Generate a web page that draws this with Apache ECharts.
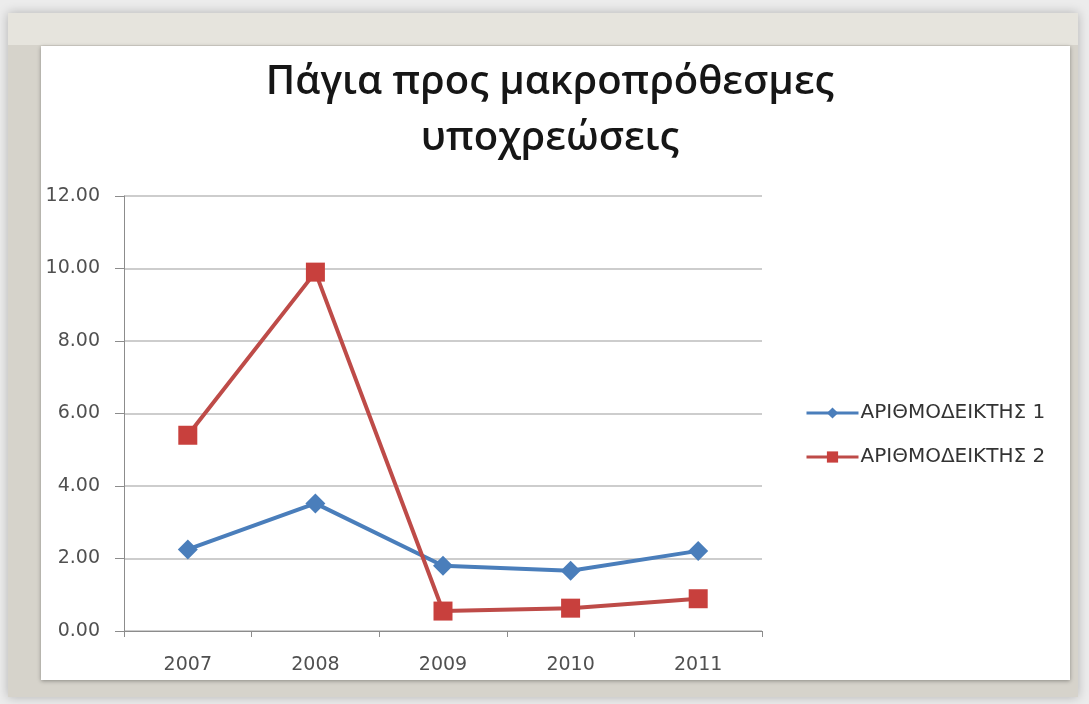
<!DOCTYPE html>
<html>
<head>
<meta charset="utf-8">
<script src="https://cdn.jsdelivr.net/npm/echarts@6/dist/echarts.min.js"></script>
<style>
  html, body { margin: 0; padding: 0; background: #ececec; }
  #chart { width: 1089px; height: 704px; }
</style>
</head>
<body>
<div id="chart"></div>
<script>
// Years on the category axis
const years = ['2007', '2008', '2009', '2010', '2011'];
// Ratio values per year
const index1 = [2.25, 3.52, 1.80, 1.66, 2.21];
const index2 = [5.40, 9.90, 0.55, 0.63, 0.89];
const seriesNames = ['ΑΡΙΘΜΟΔΕΙΚΤΗΣ 1', 'ΑΡΙΘΜΟΔΕΙΚΤΗΣ 2'];
const titleText = 'Πάγια προς μακροπρόθεσμες\nυποχρεώσεις';

const chart = echarts.init(document.getElementById('chart'));

const labelFont = { fontFamily: 'DejaVu Sans', fontSize: 19, color: '#505050' };

chart.setOption({
  backgroundColor: '#ececec',
  animation: false,
  graphic: [
    // outer frame
    { type: 'rect', z: -10, shape: { x: 8, y: 13, width: 1070, height: 684 },
      style: { fill: '#d6d3cb', shadowBlur: 10, shadowColor: 'rgba(0,0,0,0.25)' } },
    // top band of the frame, slightly lighter
    { type: 'rect', z: -9, shape: { x: 8, y: 13, width: 1070, height: 32 },
      style: { fill: '#e6e4dd' } },
    // white chart area
    { type: 'rect', z: -8, shape: { x: 41, y: 46, width: 1029, height: 634 },
      style: { fill: '#ffffff', shadowBlur: 4, shadowColor: 'rgba(0,0,0,0.35)', shadowOffsetY: 1 } }
  ],
  title: {
    text: titleText,
    left: 545,
    textAlign: 'center',
    top: 50,
    textStyle: {
      fontFamily: 'Open Sans',
      fontSize: 40,
      fontWeight: 600,
      color: '#161616',
      lineHeight: 56
    }
  },
  legend: {
    orient: 'vertical',
    left: 800,
    top: 398,
    itemGap: 24,
    itemWidth: 52,
    itemHeight: 14,
    lineStyle: { width: 3 },
    textStyle: { fontFamily: 'DejaVu Sans', fontSize: 20, color: '#333', padding: [0, 0, 0, -3] },
    data: seriesNames
  },
  grid: { left: 124, right: 327, top: 196, bottom: 73 },
  xAxis: {
    type: 'category',
    data: years,
    boundaryGap: true,
    axisLine: { lineStyle: { color: '#8c8c8c', width: 1 } },
    axisTick: { show: true, length: 6, lineStyle: { color: '#8c8c8c' } },
    axisLabel: Object.assign({ margin: 25 }, labelFont)
  },
  yAxis: {
    type: 'value',
    min: 0,
    max: 12,
    interval: 2,
    axisLine: { show: true, lineStyle: { color: '#8c8c8c', width: 1 } },
    axisTick: { show: true, length: 9, lineStyle: { color: '#8c8c8c' } },
    splitLine: { lineStyle: { color: '#bdbdbd', width: 1.5 } },
    axisLabel: Object.assign({ margin: 24, formatter: v => v.toFixed(2) }, labelFont)
  },
  series: [
    {
      name: seriesNames[0],
      type: 'line',
      data: index1,
      symbol: 'diamond',
      symbolSize: 20,
      lineStyle: { color: '#4a7ebb', width: 4 },
      itemStyle: { color: '#4a7ebb' }
    },
    {
      name: seriesNames[1],
      type: 'line',
      data: index2,
      symbol: 'rect',
      symbolSize: 19,
      lineStyle: { color: '#be4b48', width: 4 },
      itemStyle: { color: '#c8403d' }
    }
  ]
});
</script>
</body>
</html>
